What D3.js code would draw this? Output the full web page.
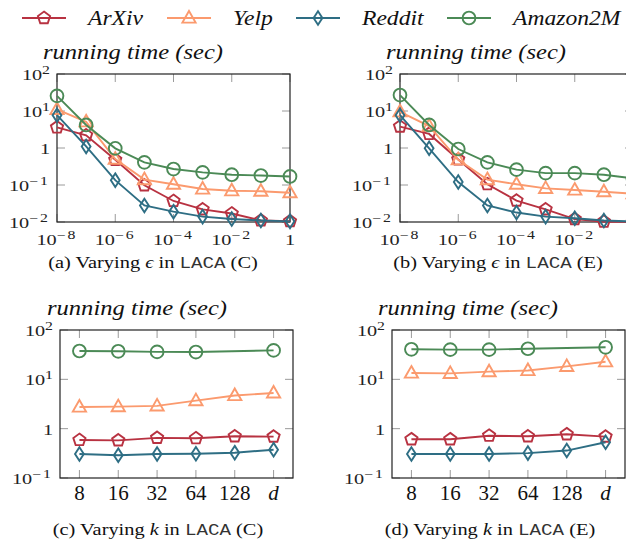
<!DOCTYPE html>
<html>
<head>
<meta charset="utf-8">
<script src="https://d3js.org/d3.v7.min.js"></script>
<style>
  body { margin: 0; background: #fff; }
  svg { display: block; font-family: "Liberation Serif", "Times New Roman", serif; }
  .tick-line { stroke: #9a9a9a; stroke-width: 1; }
  .frame { fill: none; stroke: #222; stroke-width: 1.2; }
  .mono { font-family: "Liberation Mono", "DejaVu Sans Mono", monospace; font-size: 16px; fill: #333; }
</style>
</head>
<body>
<script>
// ---- data ----
var seriesNames = ["ArXiv", "Yelp", "Reddit", "Amazon2M"];
var seriesColors = ["#b83241", "#fb9a6e", "#2e6e84", "#4b8a56"];
var seriesMarkers = ["pentagon", "triangle", "diamond", "circle"];

var epsValues = [1e-8, 1e-7, 1e-6, 1e-5, 1e-4, 1e-3, 1e-2, 1e-1, 1];
var epsTicks = [1e-8, 1e-6, 1e-4, 1e-2, 1];
var epsTickLabels = [["10", "\u22128"], ["10", "\u22126"], ["10", "\u22124"], ["10", "\u22122"], ["1", ""]];

// (a) Varying eps, LACA (C)
var aArxiv  = [3.6, 2.2, 0.48, 0.098, 0.037, 0.022, 0.017, 0.011, 0.0105];
var aYelp   = [11, 5.1, 0.5, 0.14, 0.105, 0.078, 0.07, 0.068, 0.062];
var aReddit = [7.7, 1.1, 0.135, 0.028, 0.019, 0.014, 0.012, 0.011, 0.0104];
var aAmazon = [25.7, 4.2, 0.98, 0.41, 0.27, 0.22, 0.19, 0.18, 0.17];

// (b) Varying eps, LACA (E)
var bArxiv  = [3.8, 2.4, 0.49, 0.105, 0.038, 0.022, 0.012, 0.0102, 0.01];
var bYelp   = [9.5, 3.9, 0.48, 0.14, 0.105, 0.081, 0.073, 0.066, 0.058];
var bReddit = [7.7, 0.98, 0.12, 0.028, 0.018, 0.014, 0.0126, 0.011, 0.0103];
var bAmazon = [27, 4.2, 0.94, 0.41, 0.26, 0.21, 0.21, 0.19, 0.15];

var kValues = ["8", "16", "32", "64", "128", "d"];

// (c) Varying k, LACA (C)  (Amazon2M has no point at 128)
var cArxiv  = [0.59, 0.58, 0.65, 0.64, 0.70, 0.69];
var cYelp   = [2.75, 2.8, 2.9, 3.7, 4.7, 5.3];
var cReddit = [0.306, 0.29, 0.306, 0.31, 0.326, 0.375];
var cAmazon = [37.5, 37, 36, 35.7, null, 38.6];

// (d) Varying k, LACA (E)
var dArxiv  = [0.61, 0.61, 0.72, 0.70, 0.77, 0.69];
var dYelp   = [13.4, 13.2, 14.3, 15.1, 18.3, 22.7];
var dReddit = [0.306, 0.306, 0.306, 0.32, 0.36, 0.53];
var dAmazon = [40.6, 40, 40, 41.7, null, 44.6];

var yTopTicks = [1e-2, 1e-1, 1, 10, 100];
var yTopLabels = [["10", "\u22122"], ["10", "\u22121"], ["1", ""], ["10", "1"], ["10", "2"]];
var yBotTicks = [0.1, 1, 10, 100];
var yBotLabels = [["10", "\u22121"], ["1", ""], ["10", "1"], ["10", "2"]];

// ---- page ----
var width = 626, height = 544;
var svg = d3.select("body").append("svg")
    .attr("width", width)
    .attr("height", height);

// text drawn a bit wider than the font, like the scanned figure
function stext(parent, x, y, sx) {
    return parent.append("text")
        .attr("transform", "translate(" + x + "," + y + ") scale(" + sx + ",1)")
        .attr("fill", "#111");
}

function markerPath(type) {
    var p = d3.path();
    if (type == "pentagon") {
        var r = 6.4;
        for (var i = 0; i < 5; i++) {
            var a = -Math.PI / 2 + i * 2 * Math.PI / 5;
            if (i == 0) p.moveTo(r * Math.cos(a), r * Math.sin(a));
            else p.lineTo(r * Math.cos(a), r * Math.sin(a));
        }
        p.closePath();
    } else if (type == "triangle") {
        p.moveTo(0, -7); p.lineTo(6.6, 4.6); p.lineTo(-6.6, 4.6); p.closePath();
    } else if (type == "diamond") {
        p.moveTo(0, -6.8); p.lineTo(4.4, 0); p.lineTo(0, 6.8); p.lineTo(-4.4, 0); p.closePath();
    } else {
        p.arc(0, 0, 6.4, 0, 2 * Math.PI);
    }
    return p.toString();
}

function powLabel(g, x, y, parts, anchor) {
    var size = 15;
    var t = stext(g, x, y, 1.35)
        .attr("text-anchor", anchor)
        .style("font-size", size + "px")
        .attr("fill", "#222");
    t.append("tspan").text(parts[0]);
    if (parts[1]) {
        t.append("tspan")
            .attr("dy", -size * 0.42)
            .style("font-size", (size * 0.78) + "px")
            .style("letter-spacing", parts[1].length > 1 ? "1.5px" : "0px")
            .text(parts[1]);
    }
}

function drawPanel(opt) {
    var g = svg.append("g");
    var x = opt.x, y = opt.y;
    var x0 = x.range()[0], x1 = x.range()[x.range().length - 1];
    var y0 = y.range()[0], y1 = y.range()[1];
    var tl = 8;

    // ticks inside frame
    opt.xTicks.forEach(function(v) {
        var px = x(v);
        g.append("line").attr("class", "tick-line").attr("x1", px).attr("x2", px).attr("y1", y0).attr("y2", y0 - tl);
        g.append("line").attr("class", "tick-line").attr("x1", px).attr("x2", px).attr("y1", y1).attr("y2", y1 + tl);
    });
    opt.yTicks.forEach(function(v) {
        var py = y(v);
        g.append("line").attr("class", "tick-line").attr("x1", x0).attr("x2", x0 + tl).attr("y1", py).attr("y2", py);
        g.append("line").attr("class", "tick-line").attr("x1", x1).attr("x2", x1 - tl).attr("y1", py).attr("y2", py);
    });

    g.append("rect").attr("class", "frame")
        .attr("x", x0).attr("y", y1)
        .attr("width", x1 - x0).attr("height", y0 - y1);

    // y tick labels
    opt.yTicks.forEach(function(v, i) {
        powLabel(g, x0 - 7, y(v) + 6, opt.yLabels[i], "end");
    });
    // x tick labels (skip ones that fall off the page)
    opt.xTicks.forEach(function(v, i) {
        if (x(v) > width - 4) return;
        if (opt.xBig) {
            stext(g, x(v), y0 + 22, 1)
                .attr("text-anchor", "middle")
                .style("font-size", "21px")
                .style("font-style", v == "d" ? "italic" : "normal")
                .text(opt.xLabels[i]);
        } else {
            powLabel(g, x(v), y0 + 23, opt.xLabels[i], "middle");
        }
    });

    // series
    opt.series.forEach(function(vals, s) {
        var pts = opt.xs.map(function(xv, i) { return [xv, vals[i]]; })
            .filter(function(d) { return d[1] != null; });
        var line = d3.line()
            .x(function(d) { return x(d[0]); })
            .y(function(d) { return y(d[1]); });
        g.append("path").datum(pts)
            .attr("d", line)
            .attr("fill", "none")
            .attr("stroke", seriesColors[s])
            .attr("stroke-width", 1.9);
        g.selectAll(".m" + s).data(pts).enter().append("path")
            .attr("d", markerPath(seriesMarkers[s]))
            .attr("transform", function(d) { return "translate(" + x(d[0]) + "," + y(d[1]) + ")"; })
            .attr("fill", "none")
            .attr("stroke", seriesColors[s])
            .attr("stroke-width", 1.9);
    });

    // axis title above
    stext(g, opt.titleX, y1 - 15, 1.17)
        .style("font-size", "21px").style("font-style", "italic")
        .text("running time (sec)");

    // caption
    var cap = stext(g, opt.capX, opt.capY, 1.2)
        .attr("text-anchor", "middle")
        .style("font-size", "17px");
    cap.append("tspan").text(opt.capLetter + " Varying ");
    cap.append("tspan").style("font-style", "italic").text(opt.capVar);
    cap.append("tspan").text(" in ");
    cap.append("tspan").attr("class", "mono").text("LACA");
    cap.append("tspan").text(" (" + opt.capMode + ")");
}

var topY = d3.scaleLog().domain([1e-2, 1e2]).range([222, 74]);
var botY = d3.scaleLog().domain([0.1, 100]).range([478, 330]);

drawPanel({
    x: d3.scaleLog().domain([1e-8, 1]).range([57, 290]), y: topY,
    xs: epsValues, xTicks: epsTicks, xLabels: epsTickLabels,
    yTicks: yTopTicks, yLabels: yTopLabels,
    series: [aArxiv, aYelp, aReddit, aAmazon],
    titleX: 43, capX: 153, capY: 268, capLetter: "(a)", capVar: "\u03f5", capMode: "C"
});
drawPanel({
    x: d3.scaleLog().domain([1e-8, 1]).range([400, 633]), y: topY,
    xs: epsValues, xTicks: epsTicks, xLabels: epsTickLabels,
    yTicks: yTopTicks, yLabels: yTopLabels,
    series: [bArxiv, bYelp, bReddit, bAmazon],
    titleX: 386, capX: 498, capY: 268, capLetter: "(b)", capVar: "\u03f5", capMode: "E"
});
drawPanel({
    x: d3.scalePoint().domain(kValues).range([60, 293]).padding(0.5), y: botY, xBig: true,
    xs: kValues, xTicks: kValues, xLabels: kValues,
    yTicks: yBotTicks, yLabels: yBotLabels,
    series: [cArxiv, cYelp, cReddit, cAmazon],
    titleX: 47, capX: 158, capY: 535, capLetter: "(c)", capVar: "k", capMode: "C"
});
drawPanel({
    x: d3.scalePoint().domain(kValues).range([392, 625]).padding(0.5), y: botY, xBig: true,
    xs: kValues, xTicks: kValues, xLabels: kValues,
    yTicks: yBotTicks, yLabels: yBotLabels,
    series: [dArxiv, dYelp, dReddit, dAmazon],
    titleX: 378, capX: 490, capY: 535, capLetter: "(d)", capVar: "k", capMode: "E"
});

// legend
var legendX = [22, 167, 296, 447];
var legend = svg.selectAll("g.legend")
    .data(seriesNames)
    .enter().append("g")
    .attr("class", "legend")
    .attr("transform", function(d, i) { return "translate(" + legendX[i] + ",18)"; });
legend.append("line")
    .attr("x1", 0).attr("x2", 44).attr("y1", 0).attr("y2", 0)
    .attr("stroke", function(d, i) { return seriesColors[i]; })
    .attr("stroke-width", 1.9);
legend.append("path")
    .attr("d", function(d, i) { return markerPath(seriesMarkers[i]); })
    .attr("transform", "translate(22,0)")
    .attr("fill", "none")
    .attr("stroke", function(d, i) { return seriesColors[i]; })
    .attr("stroke-width", 1.9);
legend.each(function(d) {
    stext(d3.select(this), 66, 7, 1.18)
        .style("font-size", "20px").style("font-style", "italic")
        .text(d);
});
</script>
</body>
</html>
